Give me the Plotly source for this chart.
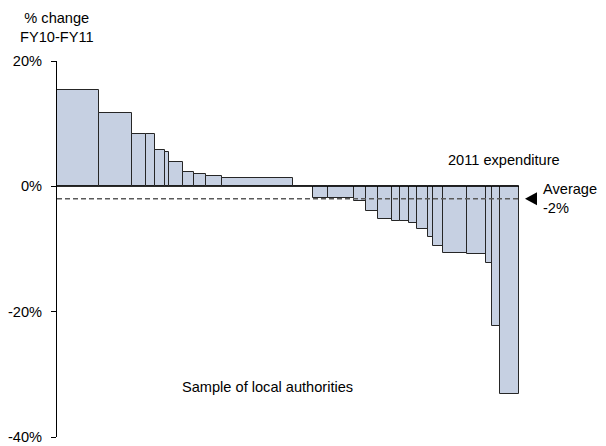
import numpy as np
import plotly.graph_objects as go

# 2011 expenditure per local authority (bar widths) and % change FY10-FY11 (bar heights)
expenditure = [42, 33.3, 13.4, 9.6, 9.4, 4.6, 13.4, 11.3, 12.5, 15.8, 71.2,
               20,
               14.8, 26, 11.4, 12.3, 14, 8.5, 8.8, 8, 11, 5.2, 9.8, 23.7, 19, 6.7, 7.3, 19.3]
pct_change = [15.4, 11.75, 8.4, 8.4, 5.85, 5.5, 3.9, 2.3, 1.9, 1.6, 1.4,
              0,
              -1.8, -1.9, -2.3, -4.0, -5.25, -5.5, -5.6, -5.9, -6.75, -8.1, -9.6,
              -10.7, -10.8, -12.2, -22.3, -33.2]
average_change = -2

y_ticks = [-40, -20, 0, 20]
y_tick_labels = ["-40%", "-20%", "0%", "20%"]
y_range = [-40, 20]

widths = np.array(expenditure, dtype=float)
right_edges = np.cumsum(widths)
centers = right_edges - widths / 2
total = right_edges[-1]

FONT = "Liberation Sans, Arial, sans-serif"
FS = 14.6

fig = go.Figure()
fig.add_trace(go.Bar(
    x=centers, y=pct_change, width=widths,
    marker=dict(color="#C6D0E2", line=dict(color="#262626", width=1)),
    hoverinfo="skip", showlegend=False,
))

# zero line and dashed average line
fig.add_shape(type="line", x0=0, x1=total, y0=0, y1=0, xref="x", yref="y",
              line=dict(color="black", width=1), layer="above")
fig.add_shape(type="line", x0=0, x1=total, y0=average_change, y1=average_change,
              xref="x", yref="y", line=dict(color="#5a5a5a", width=1.5, dash="5px,3px"),
              layer="above")

# black pointer just right of the plot, level with the average line
avg_paper = (average_change - y_range[0]) / (y_range[1] - y_range[0])
fig.add_shape(type="path", xref="paper", yref="paper",
              xsizemode="pixel", ysizemode="pixel",
              xanchor=1, yanchor=avg_paper,
              path="M 6,0 L 18,6.5 L 18,-6.5 Z",
              fillcolor="black", line=dict(width=0), layer="above")

fig.add_annotation(text="% change<br>FY10-FY11", xref="paper", yref="paper",
                   x=0, y=1.0904, xanchor="center", yanchor="middle",
                   showarrow=False, font=dict(family=FONT, size=FS, color="black"))
fig.add_annotation(text="2011 expenditure", xref="paper", yref="paper",
                   x=0.9686, y=0.7354, xanchor="center", yanchor="middle",
                   showarrow=False, font=dict(family=FONT, size=FS, color="black"))
fig.add_annotation(text="Average<br>%d%%" % average_change, xref="paper", yref="y",
                   x=1.0486, y=average_change, xanchor="left", yanchor="middle",
                   align="left", showarrow=False,
                   font=dict(family=FONT, size=FS, color="black"))
fig.add_annotation(text="Sample of local authorities", xref="paper", yref="paper",
                   x=(268 - 57) / 462.5, y=1 - (387.3 - 61) / 376,
                   xanchor="center", yanchor="middle",
                   showarrow=False, font=dict(family=FONT, size=FS, color="black"))

fig.update_layout(
    width=606, height=446,
    margin=dict(l=57, r=606 - 57 - 462.5, t=61, b=446 - 61 - 376),
    paper_bgcolor="white", plot_bgcolor="white",
    font=dict(family=FONT, size=FS, color="black"),
    bargap=0,
    xaxis=dict(range=[0, total], visible=False, showgrid=False, zeroline=False,
               automargin=False),
    yaxis=dict(range=y_range, tickvals=y_ticks, ticktext=y_tick_labels,
               showgrid=False, zeroline=False, showline=True, linecolor="black",
               linewidth=1, ticks="outside", ticklen=5, tickcolor="black",
               automargin=False,
               ticklabelstandoff=6, tickfont=dict(family=FONT, size=FS, color="black")),
)

fig.write_html("out.html")
